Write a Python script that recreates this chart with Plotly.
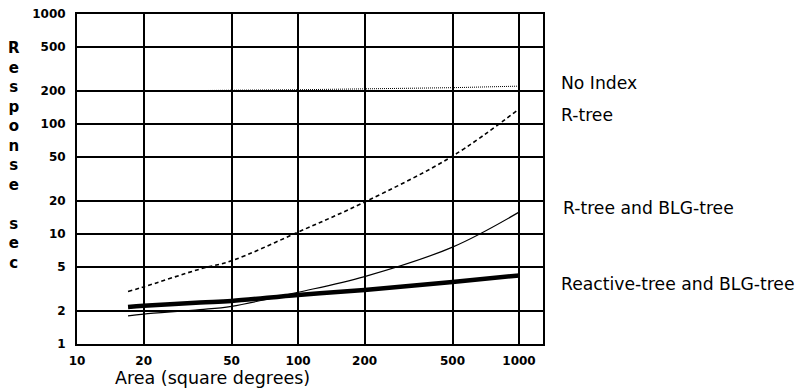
import plotly.graph_objects as go
import math

# Data
x_vals = [17, 20, 36, 50, 100, 200, 500, 1000]
no_index = [198, 199, 201, 203, 205, 208, 214, 221]
r_tree = [3.0, 3.3, 4.8, 5.7, 10.4, 19.5, 51, 137]
r_blg = [1.8, 1.87, 2.05, 2.2, 2.95, 4.1, 7.6, 15.8]
reactive_blg = [2.17, 2.22, 2.38, 2.46, 2.79, 3.1, 3.66, 4.2]

x_ticks = [10, 20, 50, 100, 200, 500, 1000]
y_ticks = [1, 2, 5, 10, 20, 50, 100, 200, 500, 1000]
series_labels = ["No Index", "R-tree", "R-tree and BLG-tree", "Reactive-tree and BLG-tree"]

FONT = "DejaVu Sans, Liberation Sans, Arial, sans-serif"

fig = go.Figure()
fig.add_trace(go.Scatter(x=x_vals, y=no_index, mode="lines", name=series_labels[0],
                         line=dict(color="black", width=1, dash="1px,1px")))
fig.add_trace(go.Scatter(x=x_vals, y=r_tree, mode="lines", name=series_labels[1],
                         line=dict(color="black", width=1.6, dash="4px,3px", shape="spline")))
fig.add_trace(go.Scatter(x=x_vals, y=r_blg, mode="lines", name=series_labels[2],
                         line=dict(color="black", width=1.2, shape="spline")))
fig.add_trace(go.Scatter(x=x_vals, y=reactive_blg, mode="lines", name=series_labels[3],
                         line=dict(color="black", width=4.5, shape="spline")))

axis_common = dict(
    type="log", showline=True, linecolor="black", linewidth=2, mirror=True,
    showgrid=True, gridcolor="black", gridwidth=1.5, zeroline=False, ticks="",
    automargin=False, ticklabeloverflow="allow",
    tickfont=dict(family=FONT, size=12, color="black", weight="bold"),
)
fig.update_xaxes(range=[0.9995, math.log10(1284)], tickvals=x_ticks,
                 ticktext=[str(v) for v in x_ticks], ticklabelstandoff=5, **axis_common)
fig.update_yaxes(range=[-0.0005, 3.0005], tickvals=y_ticks,
                 ticktext=[str(v) for v in y_ticks], ticklabelstandoff=7, **axis_common)

# plot area in page pixels: x 77..543, y 14..344
label_pos = [(559, 83), (559, 115), (561, 208), (559, 284)]
annotations = []
for lab, (px, py) in zip(series_labels, label_pos):
    annotations.append(dict(text=lab, xref="paper", yref="paper",
                            x=(px - 77) / 466, y=(344 - py) / 330,
                            xanchor="left", yanchor="middle", showarrow=False,
                            font=dict(family=FONT, size=17.2, color="black")))
annotations.append(dict(text="Area (square degrees)", xref="paper", yref="paper",
                        x=(212 - 77) / 466, y=(344 - 378) / 330,
                        xanchor="center", yanchor="middle", showarrow=False,
                        font=dict(family=FONT, size=17.5, color="black")))
annotations.append(dict(text="<br>".join(list("Response") + [" "] + list("sec")),
                        xref="paper", yref="paper",
                        x=(14 - 77) / 466, y=(344 - 155) / 330,
                        xanchor="center", yanchor="middle", showarrow=False,
                        font=dict(family=FONT, size=15, color="black", weight="bold")))

fig.update_layout(
    width=800, height=388,
    margin=dict(l=77, r=257, t=14, b=44, autoexpand=False),
    paper_bgcolor="white", plot_bgcolor="white",
    showlegend=False, annotations=annotations,
)
fig.write_html("out.html", config={"displayModeBar": False},
               post_script="document.body.style.margin='0';document.body.style.overflow='hidden';")
